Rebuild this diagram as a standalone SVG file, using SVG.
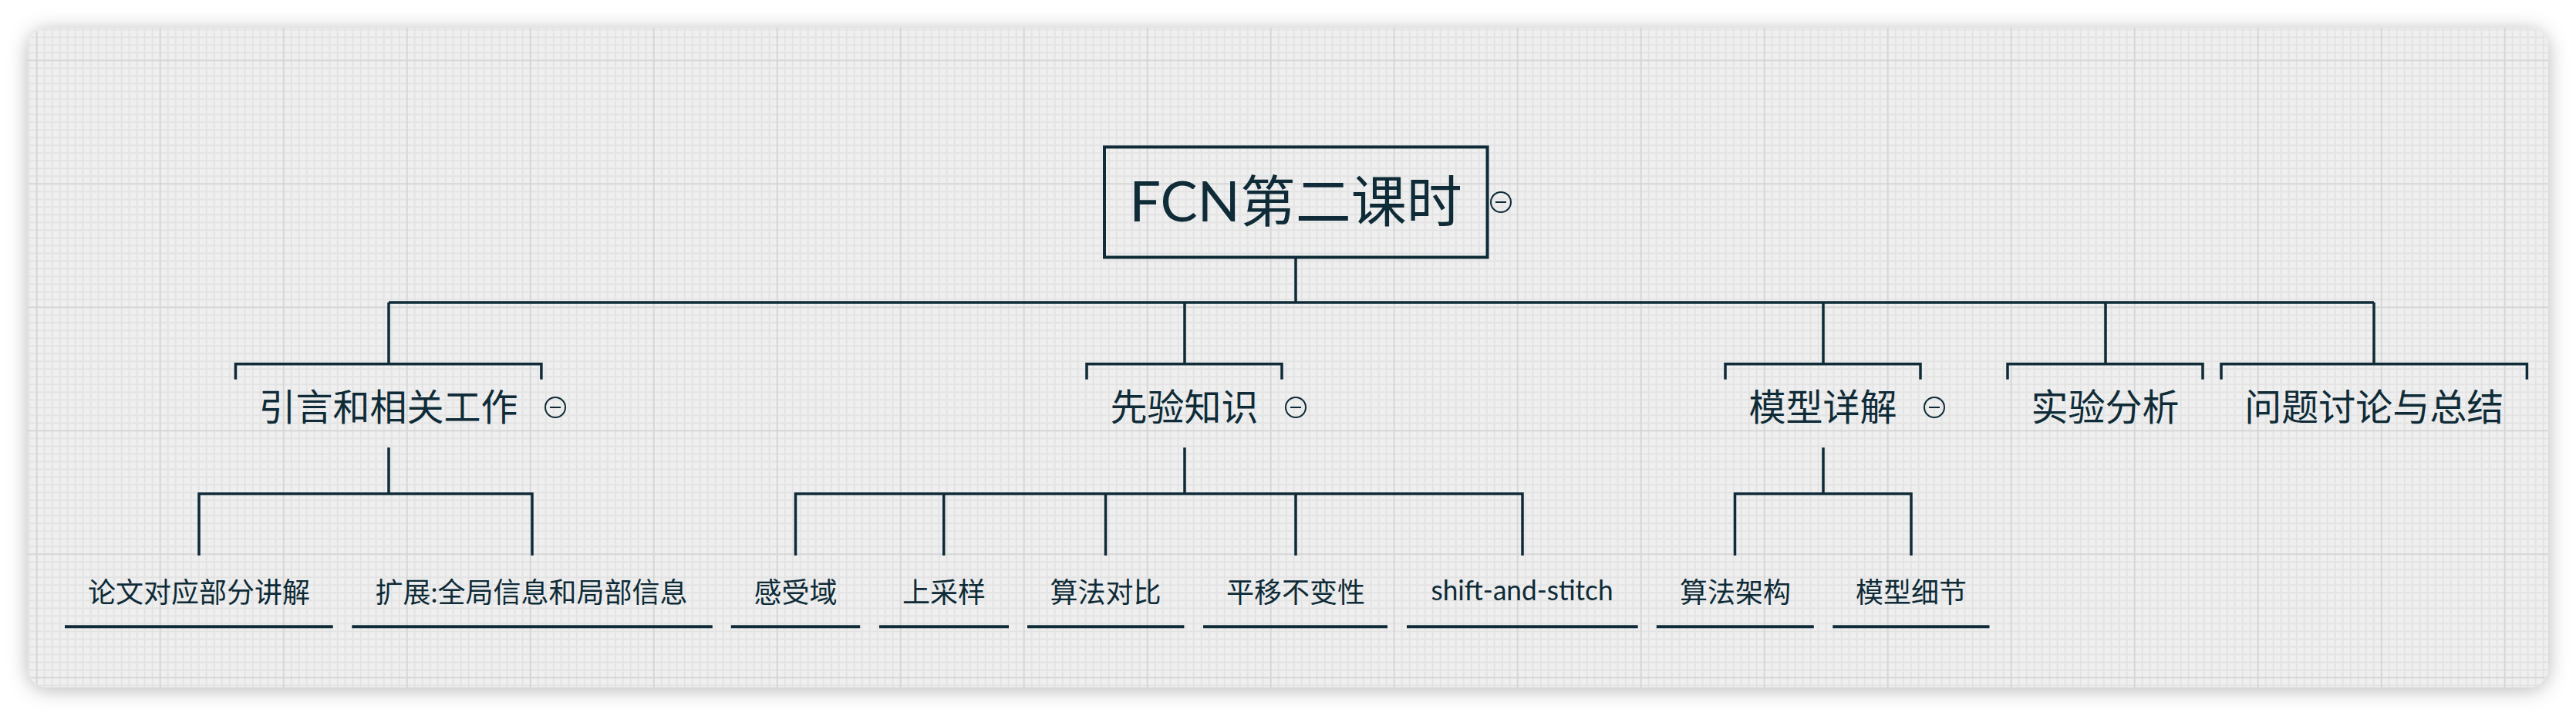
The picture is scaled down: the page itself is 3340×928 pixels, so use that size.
<svg xmlns="http://www.w3.org/2000/svg" width="3340" height="928" viewBox="0 0 3340 928">
<style>
.ln{fill:none;stroke:#0e2b37;stroke-width:3.5;stroke-linecap:butt;stroke-linejoin:miter}
.ul{fill:none;stroke:#0e2b37;stroke-width:4}
.t{font-family:Lato,"Noto Sans CJK SC",sans-serif;fill:#0e2b37;text-anchor:middle}
.t0{font-size:72px}
.t1{font-size:48px}
.t2{font-size:36px}
.cc{fill:none;stroke:#0e2b37;stroke-width:2}
</style>
<defs>
<filter id="sh" x="-5%" y="-20%" width="110%" height="140%">
<feDropShadow dx="0" dy="3" stdDeviation="13" flood-color="#000" flood-opacity="0.28"/>
</filter>
<pattern id="grid" patternUnits="userSpaceOnUse" x="46.7" y="77.3" width="160" height="160">
<rect width="160" height="160" fill="#efefef"/>
<path d="M1 0V160M11 0V160M21 0V160M31 0V160M41 0V160M51 0V160M61 0V160M71 0V160M81 0V160M91 0V160M101 0V160M111 0V160M121 0V160M131 0V160M141 0V160M151 0V160M0 1H160M0 11H160M0 21H160M0 31H160M0 41H160M0 51H160M0 61H160M0 71H160M0 81H160M0 91H160M0 101H160M0 111H160M0 121H160M0 131H160M0 141H160M0 151H160" stroke="#e3e3e3" stroke-width="2" fill="none"/>
<path d="M1 0V160M0 1H160" stroke="#d6d6d6" stroke-width="2" fill="none"/>
</pattern>
</defs>
<rect width="3340" height="928" fill="#ffffff"/>
<rect x="36" y="36" width="3268" height="855" rx="26" fill="#efefef" filter="url(#sh)"/>
<rect x="36" y="36" width="3268" height="855" rx="26" fill="url(#grid)"/>

<g id="connectors">
<path class="ln" d="M1680 333V392M504 392H3078M504 392V471.7M1536 392V471.7M2364 392V471.7M2730 392V471.7M3078 392V471.7"/>
<path class="ln" d="M504 580V640M258 720V640H690V720"/>
<path class="ln" d="M1536 580V640M1031.5 720V640H1974V720M1223.7 640V720M1433.5 640V720M1680 640V720"/>
<path class="ln" d="M2364 580V640M2249.5 720V640H2478V720"/>
</g>

<g id="root">
<rect x="1432" y="190.5" width="496.5" height="143" fill="none" stroke="#0e2b37" stroke-width="4"/>
<text class="t t0" x="1680" y="287">FCN第二课时</text>
<circle class="cc" cx="1946" cy="262" r="13"/><path class="cc" d="M1939 262H1953"/>
</g>

<g id="n1">
<path class="ln" d="M305.4 491.7V471.7H701.9V491.7"/>
<text class="t t1" x="503.6" y="545">引言和相关工作</text>
<circle class="cc" cx="720" cy="528" r="13"/><path class="cc" d="M713 528H727"/>
</g>
<g id="n2">
<path class="ln" d="M1409 491.7V471.7H1662V491.7"/>
<text class="t t1" x="1535.5" y="545">先验知识</text>
<circle class="cc" cx="1680" cy="528" r="13"/><path class="cc" d="M1673 528H1687"/>
</g>
<g id="n3">
<path class="ln" d="M2237 491.7V471.7H2490V491.7"/>
<text class="t t1" x="2363.6" y="545">模型详解</text>
<circle class="cc" cx="2508" cy="528" r="13"/><path class="cc" d="M2501 528H2515"/>
</g>
<g id="n4">
<path class="ln" d="M2603 491.7V471.7H2856V491.7"/>
<text class="t t1" x="2729.5" y="545">实验分析</text>
</g>
<g id="n5">
<path class="ln" d="M2880 491.7V471.7H3276.4V491.7"/>
<text class="t t1" x="3078.2" y="545">问题讨论与总结</text>
</g>

<g id="n1a">
<text class="t t2" x="258" y="781">论文对应部分讲解</text>
<path class="ul" d="M84 812.3H431.7"/>
</g>
<g id="n1b">
<text class="t t2" x="689" y="781">扩展:全局信息和局部信息</text>
<path class="ul" d="M456.3 812.3H923.8"/>
</g>
<g id="n2a">
<text class="t t2" x="1031.5" y="781">感受域</text>
<path class="ul" d="M947.8 812.3H1115.2"/>
</g>
<g id="n2b">
<text class="t t2" x="1224" y="781">上采样</text>
<path class="ul" d="M1140 812.3H1308"/>
</g>
<g id="n2c">
<text class="t t2" x="1433.5" y="781">算法对比</text>
<path class="ul" d="M1332 812.3H1535.4"/>
</g>
<g id="n2d">
<text class="t t2" x="1680" y="781">平移不变性</text>
<path class="ul" d="M1560 812.3H1799"/>
</g>
<g id="n2e">
<text class="t t2" x="1973.5" y="778" textLength="236" lengthAdjust="spacingAndGlyphs">shift-and-stitch</text>
<path class="ul" d="M1824 812.3H2123.7"/>
</g>
<g id="n3a">
<text class="t t2" x="2250" y="781">算法架构</text>
<path class="ul" d="M2147.8 812.3H2351.8"/>
</g>
<g id="n3b">
<text class="t t2" x="2478" y="781">模型细节</text>
<path class="ul" d="M2376.3 812.3H2579.5"/>
</g>
</svg>
